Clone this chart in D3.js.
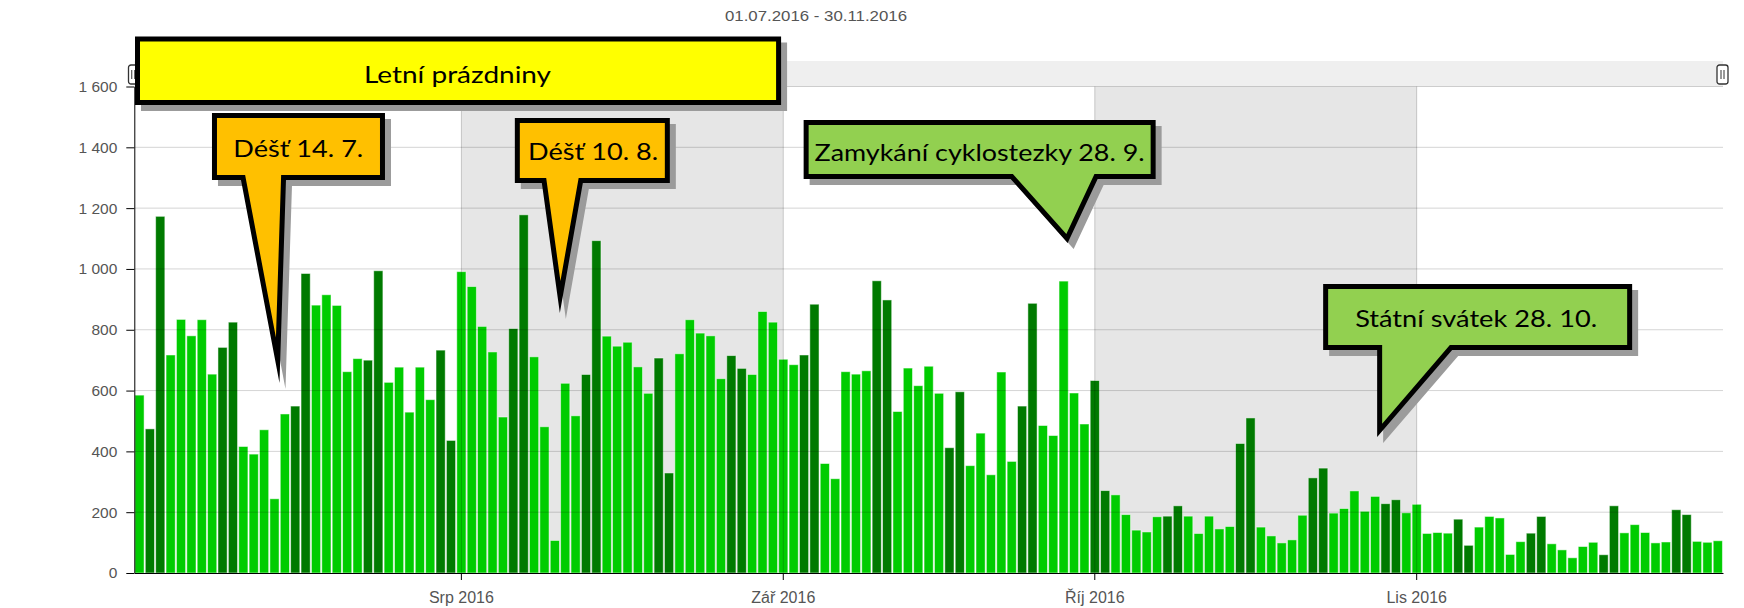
<!DOCTYPE html>
<html>
<head>
<meta charset="utf-8">
<style>
  body { margin: 0; background: #fff; }
  svg { display: block; }
  .axis text { font-family: "Liberation Sans", Arial, sans-serif; font-size: 15.5px; fill: #555; }
  .axis path, .axis line { stroke: #000; }
</style>
</head>
<body>
<svg width="1744" height="608"></svg>
<script src="https://d3js.org/d3.v7.min.js"></script>
<script>
  // daily counts, 1.7.2016 - 30.11.2016
  var julValues = [585, 474, 1173, 717, 834, 780, 833, 654, 742, 825,
                   416, 391, 471, 244, 523, 549, 985, 881, 915, 880,
                   662, 705, 700, 994, 627, 677, 529, 677, 570, 733, 436];
  var augValues = [991, 942, 811, 727, 513, 804, 1178, 711, 481, 107,
                   624, 517, 653, 1093, 779, 746, 759, 678, 591, 707,
                   329, 721, 833, 789, 780, 639, 715, 673, 653, 860, 825];
  var sepValues = [703, 685, 717, 884, 360, 310, 662, 654, 665, 961,
                   898, 531, 674, 616, 680, 591, 412, 596, 353, 460,
                   323, 661, 367, 549, 887, 485, 452, 960, 592, 490];
  var octValues = [633, 271, 257, 192, 141, 135, 185, 187, 221, 187,
                   130, 187, 145, 153, 426, 510, 151, 122, 99, 109,
                   190, 313, 345, 197, 212, 270, 203, 252, 228, 241, 198];
  var novValues = [226, 130, 133, 131, 177, 91, 151, 186, 181, 61,
                   103, 131, 186, 96, 76, 50, 87, 101, 60, 221,
                   132, 159, 133, 99, 102, 208, 192, 104, 101, 106];

  var startDate = new Date(2016, 6, 1);
  var titleText = "01.07.2016 - 30.11.2016";
  var yTicks = [0, 200, 400, 600, 800, 1000, 1200, 1400, 1600];
  var monthStarts = [new Date(2016, 7, 1), new Date(2016, 8, 1), new Date(2016, 9, 1), new Date(2016, 10, 1)];
  var monthLabels = ["Srp 2016", "Zář 2016", "Říj 2016", "Lis 2016"];
  var holidayText = "Letní prázdniny";

  var notes = [
    { text: "Déšť 14. 7.", date: new Date(2016, 6, 14), value: 625, fill: "#ffc000" },
    { text: "Déšť 10. 8.", date: new Date(2016, 7, 10), value: 855, fill: "#ffc000" },
    { text: "Zamykání cyklostezky 28. 9.", date: new Date(2016, 8, 28), value: 1085, fill: "#92d050" },
    { text: "Státní svátek 28. 10.", date: new Date(2016, 9, 28), value: 447, fill: "#92d050" }
  ];

  // callout shapes relative to the tip (pixels)
  var noteLayout = [
    { dx: 5, box: [-67.5, -270, 105.5, -203], base: [-38.5, 6.5], tx: 18.8, ty: -226, tw: 130 },
    { dx: 5, box: [-45, -195, 110, -130], base: [-18, 23], tx: 33.3, ty: -152.7, tw: 130 },
    { dx: 4, box: [-264, -123, 88, -64], base: [-57, 30], tx: -88, ty: -82.3, tw: 330 },
    { dx: 2, box: [-54, -153, 255, -87], base: [0, 75], tx: 99, ty: -109.6, tw: 242 }
  ];

  var values = julValues.concat(augValues, sepValues, octValues, novValues);
  var days = d3.timeDay.range(startDate, d3.timeDay.offset(startDate, values.length));
  var data = days.map(function(d, i) { return { date: d, value: values[i] }; });

  var svg = d3.select("svg"),
    plotL = 134.3, plotR = 1723, plotT = 86.5, plotB = 573;

  var x = d3.scaleBand().domain(days).range([plotL, plotR]);
  var y = d3.scaleLinear().domain([0, 1600]).range([plotB, plotT]);
  var xc = function(d) { return x(d) + x.bandwidth() / 2; };

  var locale = d3.formatLocale({ decimal: ",", thousands: " ", grouping: [3], currency: ["", " Kč"] });

  // title
  svg.append("text")
    .attr("x", 816).attr("y", 20.7)
    .attr("text-anchor", "middle")
    .attr("font-family", "Liberation Sans, Arial, sans-serif")
    .attr("font-size", 14.5)
    .attr("fill", "#555")
    .attr("textLength", 182).attr("lengthAdjust", "spacingAndGlyphs")
    .text(titleText);

  // scrollbar strip above the plot
  svg.append("rect")
    .attr("x", plotL).attr("y", 61)
    .attr("width", plotR - plotL).attr("height", plotT - 61)
    .attr("fill", "#efefef");

  // shaded months (Aug, Oct)
  svg.append("g").selectAll("rect")
    .data([[monthStarts[0], monthStarts[1]], [monthStarts[2], monthStarts[3]]])
    .enter().append("rect")
    .attr("x", function(d) { return xc(d[0]); })
    .attr("width", function(d) { return xc(d[1]) - xc(d[0]); })
    .attr("y", plotT).attr("height", plotB - plotT)
    .attr("fill", "#e6e6e6");

  // bars
  svg.append("g").selectAll("rect")
    .data(data)
    .enter().append("rect")
    .attr("x", function(d) { return x(d.date) + 0.6; })
    .attr("width", x.bandwidth() - 1.2)
    .attr("y", function(d) { return y(d.value); })
    .attr("height", function(d) { return plotB - y(d.value); })
    .attr("fill", function(d) {
      var wd = d.date.getDay();
      return (wd === 0 || wd === 6) ? "#007a00" : "#00cc00";
    })
    .attr("stroke", "rgba(255,255,255,0.55)")
    .attr("stroke-width", 0.9);

  // grid lines drawn over the bars
  svg.append("g").selectAll("line")
    .data(yTicks.slice(1))
    .enter().append("line")
    .attr("x1", plotL).attr("x2", plotR)
    .attr("y1", function(d) { return y(d); }).attr("y2", function(d) { return y(d); })
    .attr("stroke", "rgba(0,0,0,0.17)");

  svg.append("g").selectAll("line")
    .data(monthStarts)
    .enter().append("line")
    .attr("x1", xc).attr("x2", xc)
    .attr("y1", plotT).attr("y2", plotB)
    .attr("stroke", "rgba(0,0,0,0.18)");

  // axes
  svg.append("g")
    .attr("class", "axis")
    .attr("transform", "translate(" + plotL + ",0)")
    .call(d3.axisLeft(y).tickValues(yTicks).tickSize(8).tickSizeOuter(0).tickPadding(9)
      .tickFormat(locale.format(",d")));

  svg.append("g")
    .attr("class", "axis")
    .attr("transform", "translate(0," + plotB + ")")
    .call(d3.axisBottom(x).tickValues(monthStarts).tickSize(7).tickSizeOuter(0).tickPadding(11.5)
      .tickFormat(function(d, i) { return monthLabels[i]; }))
    .selectAll("text").style("font-size", "16px");

  // scrollbar handles
  [[128.5, 9.5], [1717, 11]].forEach(function(h) {
    var g = svg.append("g").attr("transform", "translate(" + h[0] + ",65)");
    g.append("rect").attr("width", h[1]).attr("height", 19).attr("rx", 2.5)
      .attr("fill", "#fff").attr("stroke", "#333").attr("stroke-width", 1.3);
    [h[1] / 2 - 1.5, h[1] / 2 + 1.5].forEach(function(lx) {
      g.append("line").attr("x1", lx).attr("x2", lx).attr("y1", 5).attr("y2", 14)
        .attr("stroke", "#333").attr("stroke-width", 1);
    });
  });

  // --- callouts ---
  // inner outline of a polygon, offset by d (mitered corners)
  function inset(pts, d) {
    var n = pts.length, lines = [];
    for (var i = 0; i < n; i++) {
      var a = pts[i], b = pts[(i + 1) % n];
      var ux = b[0] - a[0], uy = b[1] - a[1], len = Math.hypot(ux, uy);
      ux /= len; uy /= len;
      lines.push({ p: [a[0] - uy * d, a[1] + ux * d], u: [ux, uy] });
    }
    var out = [];
    for (var j = 0; j < n; j++) {
      var A = lines[(j - 1 + n) % n], B = lines[j];
      var cr = A.u[0] * B.u[1] - A.u[1] * B.u[0];
      var bx = B.p[0] - A.p[0], by = B.p[1] - A.p[1];
      var t = (bx * B.u[1] - by * B.u[0]) / cr;
      out.push([A.p[0] + t * A.u[0], A.p[1] + t * A.u[1]]);
    }
    return out;
  }

  var line = d3.line().curve(d3.curveLinearClosed);

  function callout(pts, fill) {
    var g = svg.append("g");
    g.append("path").attr("d", line(pts)).attr("transform", "translate(6,6)").attr("fill", "#9b9b9b");
    g.append("path").attr("d", line(pts)).attr("fill", "#000");
    g.append("path").attr("d", line(inset(pts, 5))).attr("fill", fill);
    return g;
  }

  // summer holidays box, spanning July and August
  var hl = x(days[0]) + 0.7, hr = x(monthStarts[1]) + 3,
    ht = y(1600) - 50, hb = y(1600) + 18.5;
  callout([[hl, ht], [hr, ht], [hr, hb], [hl, hb]], "#ffff00")
    .append("text")
    .attr("x", 457.5).attr("y", 82.8)
    .attr("text-anchor", "middle")
    .attr("font-family", "Lato, 'Open Sans', sans-serif")
    .attr("font-size", 23.5)
    .attr("textLength", 187).attr("lengthAdjust", "spacingAndGlyphs")
    .text(holidayText);

  notes.forEach(function(n, i) {
    var l = noteLayout[i];
    var tx = xc(n.date) + l.dx, ty = y(n.value);
    var L = tx + l.box[0], T = ty + l.box[1], R = tx + l.box[2], B = ty + l.box[3];
    var pts = [[L, T], [R, T], [R, B], [tx + l.base[1], B], [tx, ty], [tx + l.base[0], B], [L, B]];
    callout(pts, n.fill)
      .append("text")
      .attr("x", tx + l.tx).attr("y", ty + l.ty)
      .attr("text-anchor", "middle")
      .attr("font-family", "Lato, 'Open Sans', sans-serif")
      .attr("font-size", 24)
      .attr("textLength", l.tw).attr("lengthAdjust", "spacingAndGlyphs")
      .text(n.text);
  });
</script>
</body>
</html>
